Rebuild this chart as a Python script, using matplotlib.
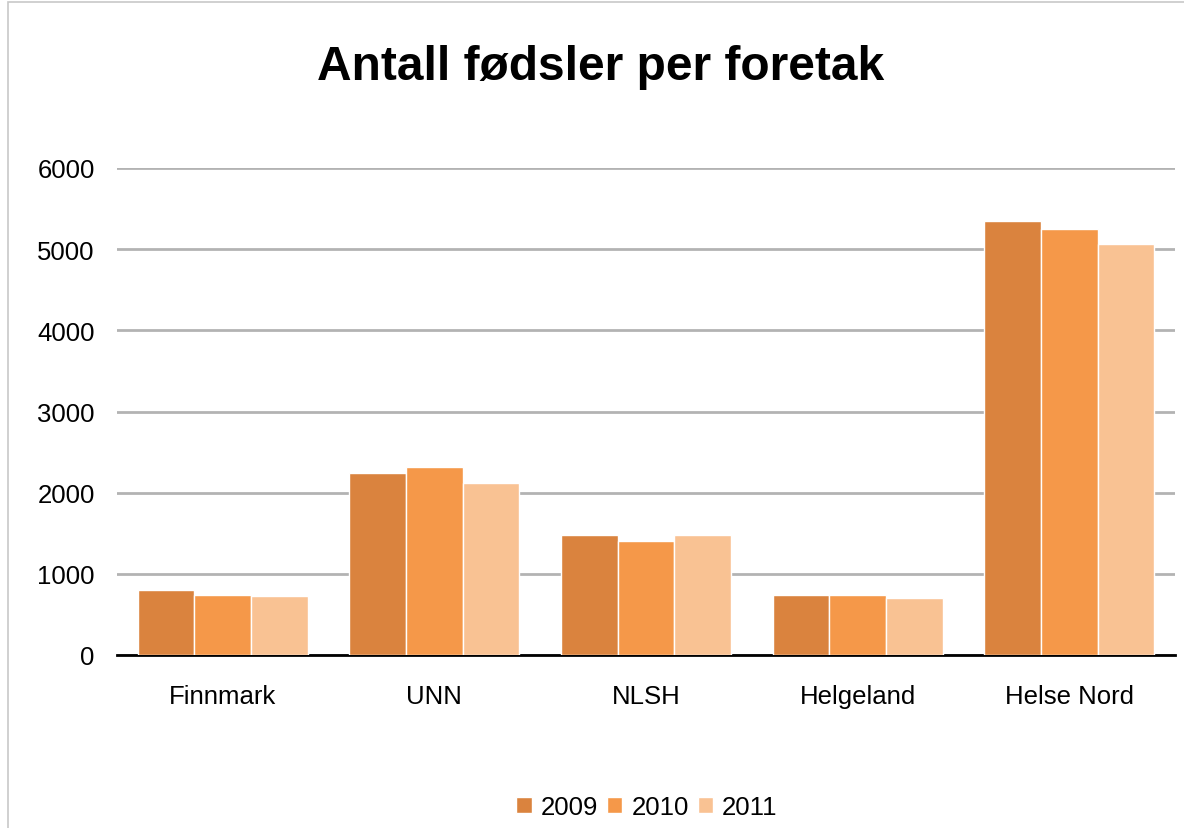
import numpy as np
import matplotlib
matplotlib.use("Agg")
from matplotlib import pyplot as plt
from matplotlib.patches import Rectangle

categories = ["Finnmark", "UNN", "NLSH", "Helgeland", "Helse Nord"]
years = ["2009", "2010", "2011"]
values_2009 = [795, 2240, 1480, 745, 5350]
values_2010 = [745, 2315, 1410, 745, 5250]
values_2011 = [725, 2120, 1480, 700, 5065]
colors = ["#DA833E", "#F59849", "#F9C293"]

plt.rcParams['font.family'] = ['Liberation Sans', 'DejaVu Sans']

fig = plt.figure(figsize=(11.84, 8.29), dpi=100)
ax = fig.add_axes([117 / 1184, 1 - 656 / 829, (1175 - 117) / 1184, (656 - 169) / 829])

# chart border
fig.patches.append(Rectangle((8 / 1184, -0.01), 1.0, 1 - 3 / 829 + 0.01, transform=fig.transFigure,
                             fill=False, edgecolor="#C8C8C8", linewidth=1.2))

x = np.arange(len(categories))
w = 0.268
for i, vals in enumerate([values_2009, values_2010, values_2011]):
    ax.bar(x + (i - 1) * w, vals, width=w, color=colors[i], edgecolor="white",
           linewidth=1, label=years[i], zorder=3)

ax.set_xlim(-0.5, len(categories) - 0.5)
ax.set_ylim(0, 6000)
ax.set_yticks(range(0, 6001, 1000))
ax.yaxis.grid(True, color="#B3B3B3", linewidth=2, zorder=0)
ax.set_axisbelow(True)
for s in ["top", "right", "left"]:
    ax.spines[s].set_visible(False)
ax.spines["bottom"].set_color("black")
ax.spines["bottom"].set_linewidth(2)
ax.tick_params(axis="both", length=0, labelsize=18.5, colors="black")
ax.tick_params(axis="x", pad=21)
ax.tick_params(axis="y", pad=16)
ax.set_xticks(x)
ax.set_xticklabels(categories)

fig.text(601 / 1184, 1 - 68 / 829, "Antall fødsler per foretak", ha="center", va="center",
         fontsize=34.5, fontweight="bold")

fig.legend(loc="center", bbox_to_anchor=(647 / 1184, 1 - 808 / 829), ncol=3, frameon=False,
           fontsize=18.5, handlelength=0.6, handleheight=0.6, handletextpad=0.35,
           columnspacing=0.35)

plt.savefig("out.png", dpi=100)
